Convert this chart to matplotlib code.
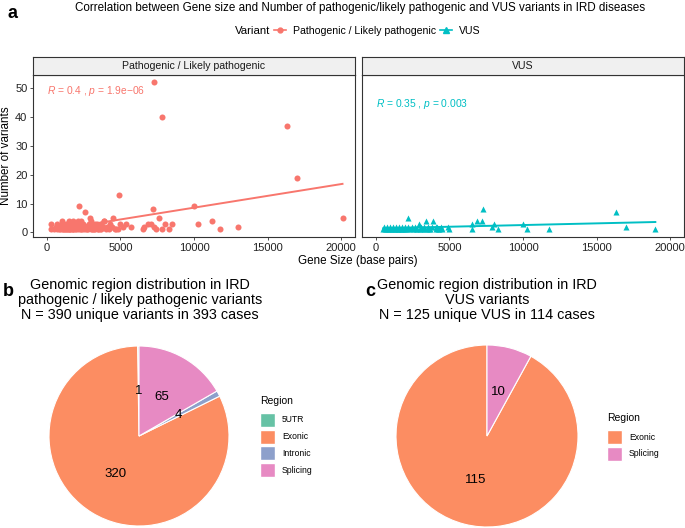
import numpy as np
import matplotlib
matplotlib.use('Agg')
import matplotlib.pyplot as plt
from matplotlib.lines import Line2D

plt.rcParams['font.family'] = ['Liberation Sans', 'DejaVu Sans']
plt.rcParams['mathtext.fontset'] = 'custom'
plt.rcParams['mathtext.it'] = 'Liberation Sans:italic'
plt.rcParams['mathtext.rm'] = 'Liberation Sans'

# Pathogenic / likely pathogenic: gene size vs number of variants
path_size = [7300, 7800, 16300, 17000, 20100, 4900, 10000, 2200, 7200, 2600,
             7600, 4500, 2900, 10300, 11200, 11800, 13000, 8500, 8300, 7800,
             8000, 6500, 6600, 6900, 7100, 7400, 7300, 5000, 5400, 5700,
             5200, 4800, 4600, 3900, 3400,
             250, 500, 650, 800, 900, 1000, 1100, 1150, 1200, 1300, 1350, 1400,
             1500, 1550, 1600, 1700, 1750, 1800, 1900, 2000, 2100, 2250, 2300,
             2400, 2500, 2650, 2700, 2800, 3000, 3050, 3100, 3200, 3300, 3450,
             3500, 3600, 3700, 4000, 4200, 4700,
             600, 750, 950, 1250, 1450, 1650, 1850, 2050, 2350, 2550, 2750,
             3150, 3350, 3800, 4100, 4400,
             250, 700, 1050, 1300, 1600, 1900, 2150, 2450, 2850, 3250, 3700, 4300,
             1000, 1500, 1800, 2100, 2300, 3000, 3900]
path_count = [52, 40, 37, 19, 5, 13, 9, 9, 8, 7,
              5, 5, 5, 3, 4, 1, 2, 3, 1, 1,
              3, 1, 2, 3, 3, 1, 2, 3, 3, 2,
              2, 1, 1, 4, 3,
              1, 1, 1, 1, 1, 1, 1, 1, 1, 1, 1, 1,
              1, 1, 1, 1, 1, 1, 1, 1, 1, 1, 1,
              1, 1, 1, 1, 1, 1, 1, 1, 1, 1, 1,
              1, 1, 1, 1, 1, 1,
              2, 2, 2, 2, 2, 2, 2, 2, 2, 2, 2,
              2, 2, 2, 2, 2,
              3, 3, 3, 3, 3, 3, 3, 3, 3, 3, 3, 3,
              4, 4, 4, 4, 4, 4, 4]

# VUS
vus_size = [7300, 16300, 2200, 6900, 7200, 3400, 3900, 6500, 8000, 10000,
            2900, 17000, 19000, 11800, 10300, 8300, 6500, 7900, 4900, 4500,
            500, 600, 700, 800, 900, 1000, 1100, 1200, 1300, 1400, 1500, 1600,
            1700, 1800, 1900, 2000, 2100, 2300, 2500, 2700, 2800, 3000, 3100,
            3300, 3500, 3600, 3700, 4100, 4200, 4300,
            550, 750, 950, 1150, 1350, 1550, 1750, 1950, 2150, 2450, 2650,
            3050, 3250, 3550, 4050, 4150, 4400, 3800, 5000]
vus_count = [8, 7, 5, 4, 4, 4, 4, 3, 3, 3,
             3, 2, 1, 1, 1, 1, 1, 2, 2, 1,
             1, 1, 1, 1, 1, 1, 1, 1, 1, 1, 1, 1,
             1, 1, 1, 1, 1, 1, 1, 1, 1, 1, 1,
             1, 1, 1, 1, 1, 1, 1,
             2, 2, 2, 2, 2, 2, 2, 2, 2, 2, 2,
             2, 2, 2, 2, 2, 2, 2, 1]

# Region distribution
path_regions = ['5UTR', 'Exonic', 'Intronic', 'Splicing']
path_region_n = [1, 320, 4, 65]
vus_regions = ['Exonic', 'Splicing']
vus_region_n = [115, 10]

region_colors = {'5UTR': '#66C2A5', 'Exonic': '#FC8D62',
                 'Intronic': '#8DA0CB', 'Splicing': '#E78AC3'}
red = '#F8766D'
teal = '#00BFC4'

W, H = 685, 528
fig = plt.figure(figsize=(W / 100, H / 100), dpi=100)


def box(x0, y0, x1, y1):
    # pixel box (top-left origin) -> figure fraction
    return [x0 / W, 1 - y1 / H, (x1 - x0) / W, (y1 - y0) / H]


# ---- panel a ----
fig.text(8 / W, 1 - 13 / H, 'a', fontsize=13, fontweight='bold', va='center')
fig.text(360 / W, 1 - 8 / H,
         'Correlation between Gene size and Number of pathogenic/likely pathogenic and VUS variants in IRD diseases',
         fontsize=8.4, ha='center', va='center')

panels = [
    (33, 355, 'Pathogenic / Likely pathogenic', path_size, path_count, red, 'o',
     '$R$ = 0.4 , $p$ = 1.9e\u221206', 0.90),
    (362, 684, 'VUS', vus_size, vus_count, teal, '^',
     '$R$ = 0.35 , $p$ = 0.003', 0.82),
]
for i, (x0, x1, name, xs, ys, col, mk, rtxt, ry) in enumerate(panels):
    ax = fig.add_axes(box(x0, 75, x1, 237))
    ax.scatter(xs, ys, color=col, marker=mk, s=19, linewidths=0, zorder=3)
    k, b = np.polyfit(xs, ys, 1)
    lx = np.array([min(xs), max(xs)])
    ax.plot(lx, k * lx + b, color=col, lw=1.4, zorder=2)
    ax.set_xlim(-950, 20950)
    ax.set_ylim(-1.6, 54.5)
    ax.set_xticks([0, 5000, 10000, 15000, 20000])
    ax.set_yticks([0, 10, 20, 30, 40, 50])
    ax.tick_params(labelsize=8, length=2.5, width=0.6, pad=1.5, colors='#333333', labelcolor='#222222')
    for s in ax.spines.values():
        s.set_linewidth(0.8)
        s.set_color('#333333')
    if i == 0:
        ax.set_ylabel('Number of variants', fontsize=8.4, labelpad=2)
    else:
        ax.set_yticklabels([])
        ax.tick_params(axis='y', length=0)
    ax.text(0.045, ry, rtxt, transform=ax.transAxes, color=col, fontsize=7.4, va='center')
    sax = fig.add_axes(box(x0, 57, x1, 75))
    sax.set_facecolor('#F0F0F0')
    sax.set_xticks([])
    sax.set_yticks([])
    for s in sax.spines.values():
        s.set_linewidth(0.8)
        s.set_color('#333333')
    sax.text(0.5, 0.5, name, transform=sax.transAxes, ha='center', va='center',
             fontsize=7.6, color='#1A1A1A')

fig.text(358 / W, 1 - 261 / H, 'Gene Size (base pairs)', fontsize=8.4, ha='center', va='center')

# legend "Variant"
fig.text(270 / W, 1 - 31 / H, 'Variant', fontsize=8.2, ha='right', va='center')
handles = [Line2D([], [], color=red, marker='o', markersize=3.5, lw=1.2),
           Line2D([], [], color=teal, marker='^', markersize=3.8, lw=1.2)]
fig.legend(handles, ['Pathogenic / Likely pathogenic', 'VUS'],
           loc='center left', bbox_to_anchor=(274 / W, 1 - 31 / H), ncol=2, frameon=False,
           fontsize=7.6, handlelength=1.1, handletextpad=0.7, columnspacing=0.4,
           borderpad=0, borderaxespad=0)

# ---- panel b and c ----
pies = [
    ('b', 3, 140, 139, 90, 'Genomic region distribution in IRD\npathogenic / likely pathogenic variants\nN = 390 unique variants in 393 cases',
     path_regions, path_region_n, 260, 401),
    ('c', 365, 487, 487, 91, 'Genomic region distribution in IRD\nVUS variants\nN = 125 unique VUS in 114 cases',
     vus_regions, vus_region_n, 607, 418),
]
for lab, lx0, tx, cx, r, title, regs, vals, legx, legy in pies:
    fig.text(lx0 / W, 1 - 291 / H, lab, fontsize=13, fontweight='bold', va='center')
    fig.text(tx / W, 1 - 300 / H, title, fontsize=10.4, ha='center', va='center', linespacing=1.12)
    ax = fig.add_axes(box(cx - r, 436 - r, cx + r, 436 + r))
    wedges, texts = ax.pie(vals, colors=[region_colors[g] for g in regs], startangle=90,
                           labels=[str(v) for v in vals], labeldistance=0.5,
                           wedgeprops=dict(edgecolor='white', linewidth=0.8),
                           textprops=dict(fontsize=9.5, color='black'))
    for t in texts:
        t.set_ha('center')
        t.set_va('center')
    ax.set_xlim(-1, 1)
    ax.set_ylim(-1, 1)
    ax.set_aspect('equal')
    fig.text(legx / W, 1 - legy / H, 'Region', fontsize=7.5, va='center')
    for j, g in enumerate(regs):
        yy = legy + 19 + j * 16.7
        fig.patches.append(plt.Rectangle((legx / W, 1 - (yy + 7) / H), 15 / W, 14 / H,
                                         transform=fig.transFigure, facecolor=region_colors[g],
                                         edgecolor='white'))
        fig.text((legx + 22) / W, 1 - yy / H, g, fontsize=6.2, va='center')

fig.savefig('out.png', dpi=100)
